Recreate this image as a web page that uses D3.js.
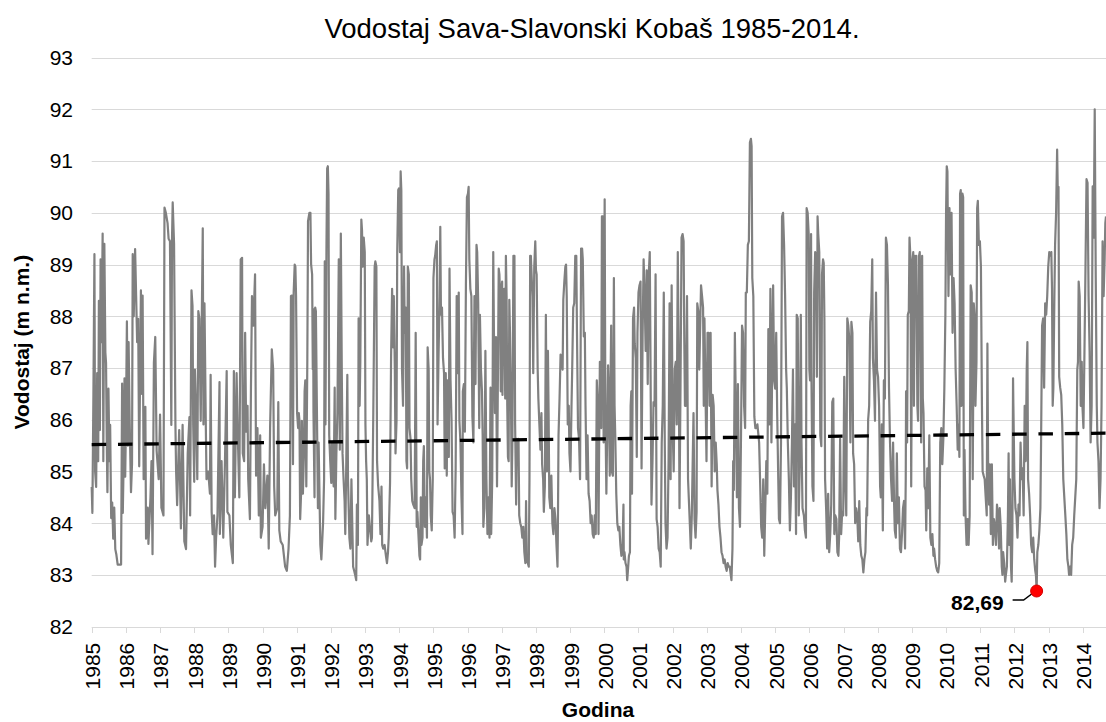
<!DOCTYPE html>
<html>
<head>
<meta charset="utf-8">
<script src="https://cdn.jsdelivr.net/npm/d3@7"></script>
<style>
  body { margin: 0; background: #fff; }
  svg { display: block; font-family: "Liberation Sans", Arial, sans-serif; }
</style>
</head>
<body>
<svg id="chart" width="1106" height="722"></svg>
<script>
// water level: [decimal year, m n.m.]
const levelSeries = [
  [1985.00,84.7],[1985.02,84.2],[1985.05,86.5],[1985.08,89.2],[1985.10,85.0],[1985.13,84.7],[1985.16,86.9],[1985.19,85.2],[1985.21,88.3],[1985.24,85.8],
  [1985.26,89.1],[1985.29,87.5],[1985.32,89.6],[1985.34,85.2],[1985.37,89.4],[1985.40,87.3],[1985.42,87.1],[1985.44,85.6],[1985.46,84.6],[1985.49,86.6],
  [1985.52,85.2],[1985.54,85.9],[1985.57,84.1],[1985.60,84.4],[1985.63,83.7],[1985.66,84.3],[1985.69,83.5],[1985.72,83.4],[1985.76,83.2],[1985.81,83.2],
  [1985.86,83.2],[1985.89,86.7],[1985.91,84.2],[1985.93,85.0],[1985.96,86.8],[1985.98,84.9],[1986.00,85.8],[1986.03,87.9],[1986.06,85.5],[1986.08,87.5],
  [1986.11,86.0],[1986.15,84.6],[1986.18,85.15],[1986.20,89.2],[1986.23,88.0],[1986.27,89.3],[1986.30,88.4],[1986.33,87.5],[1986.36,87.95],[1986.39,85.1],
  [1986.44,88.5],[1986.47,86.5],[1986.49,88.4],[1986.52,84.85],[1986.57,86.25],[1986.59,83.7],[1986.64,84.3],[1986.66,83.6],[1986.72,84.5],[1986.75,85.2],
  [1986.78,83.4],[1986.82,87.1],[1986.86,87.6],[1986.90,85.4],[1986.96,84.85],[1987.00,86.1],[1987.04,84.3],[1987.10,84.15],[1987.13,90.1],[1987.17,90.0],
  [1987.22,89.8],[1987.25,89.5],[1987.29,89.45],[1987.33,85.9],[1987.35,89.5],[1987.37,90.2],[1987.41,89.4],[1987.45,85.9],[1987.47,85.0],[1987.50,84.35],
  [1987.56,85.8],[1987.61,83.9],[1987.66,85.9],[1987.71,83.65],[1987.76,83.5],[1987.81,85.35],[1987.86,86.05],[1987.88,84.15],[1987.92,88.5],[1987.95,88.2],
  [1987.97,85.9],[1988.00,84.8],[1988.02,86.97],[1988.05,86.27],[1988.09,84.85],[1988.12,88.1],[1988.15,87.96],[1988.19,85.98],[1988.22,87.9],[1988.25,89.7],
  [1988.27,85.91],[1988.30,88.25],[1988.34,85.84],[1988.36,84.85],[1988.41,85.0],[1988.46,84.57],[1988.48,86.87],[1988.51,84.22],[1988.54,83.79],[1988.58,84.15],
  [1988.61,83.16],[1988.64,83.72],[1988.68,84.15],[1988.74,86.73],[1988.75,83.79],[1988.80,85.2],[1988.85,83.72],[1988.90,85.2],[1988.95,86.94],[1988.97,84.22],
  [1989.03,84.15],[1989.07,83.58],[1989.13,83.23],[1989.16,86.94],[1989.19,84.5],[1989.24,86.9],[1989.27,85.84],[1989.32,84.5],[1989.36,89.1],[1989.40,89.13],
  [1989.42,85.35],[1989.46,85.2],[1989.49,87.68],[1989.52,85.77],[1989.56,86.27],[1989.58,84.85],[1989.63,84.08],[1989.66,86.62],[1989.69,88.39],[1989.73,87.82],
  [1989.78,88.81],[1989.81,84.92],[1989.85,85.84],[1989.89,84.15],[1989.93,85.7],[1989.95,83.72],[1990.00,83.93],[1990.04,85.14],[1990.08,84.29],[1990.14,84.92],
  [1990.18,83.51],[1990.22,85.84],[1990.27,87.36],[1990.31,86.97],[1990.34,84.71],[1990.37,84.15],[1990.43,84.29],[1990.46,86.34],[1990.49,83.86],[1990.53,83.65],
  [1990.59,83.58],[1990.66,83.16],[1990.71,83.08],[1990.76,83.51],[1990.80,84.15],[1990.83,88.39],[1990.86,88.4],[1990.89,85.14],[1990.91,88.46],[1990.94,89.0],
  [1990.96,88.96],[1990.98,88.39],[1991.01,86.13],[1991.04,85.84],[1991.06,86.13],[1991.08,85.98],[1991.10,84.08],[1991.13,84.64],[1991.15,85.98],[1991.18,84.57],
  [1991.21,85.35],[1991.23,86.55],[1991.25,86.76],[1991.28,84.71],[1991.31,87.19],[1991.33,89.84],[1991.37,90.0],[1991.40,90.0],[1991.42,89.01],[1991.45,88.81],
  [1991.47,86.97],[1991.48,88.14],[1991.49,86.13],[1991.52,84.5],[1991.54,88.17],[1991.56,88.1],[1991.59,86.2],[1991.62,84.29],[1991.64,85.56],[1991.69,83.58],
  [1991.72,83.3],[1991.74,83.58],[1991.77,84.0],[1991.80,84.85],[1991.82,89.06],[1991.84,85.91],[1991.87,89.38],[1991.89,90.86],[1991.91,90.9],[1991.93,90.37],
  [1991.95,85.7],[1991.98,85.2],[1992.01,84.78],[1992.03,85.56],[1992.08,84.71],[1992.11,86.62],[1992.13,84.08],[1992.16,85.35],[1992.19,86.13],[1992.23,89.1],
  [1992.26,85.42],[1992.29,89.6],[1992.32,86.76],[1992.34,85.35],[1992.37,84.85],[1992.40,84.43],[1992.42,83.79],[1992.45,85.2],[1992.48,86.87],[1992.50,84.85],
  [1992.54,83.72],[1992.57,83.51],[1992.60,84.85],[1992.62,84.15],[1992.65,83.16],[1992.68,83.08],[1992.71,83.0],[1992.74,82.9],[1992.76,84.36],[1992.79,83.58],
  [1992.81,87.96],[1992.84,86.27],[1992.86,87.12],[1992.89,89.87],[1992.91,89.66],[1992.93,88.96],[1992.96,89.52],[1992.99,89.24],[1993.01,85.91],[1993.03,85.2],
  [1993.05,84.85],[1993.07,83.58],[1993.11,84.15],[1993.15,83.86],[1993.18,83.65],[1993.20,83.72],[1993.24,86.13],[1993.28,88.96],[1993.30,89.06],[1993.33,88.96],
  [1993.35,85.2],[1993.38,84.74],[1993.42,84.43],[1993.45,83.79],[1993.48,84.71],[1993.50,83.58],[1993.53,83.51],[1993.57,83.58],[1993.61,83.37],[1993.64,83.23],
  [1993.67,83.44],[1993.69,83.72],[1993.73,84.78],[1993.76,87.19],[1993.79,88.53],[1993.82,87.4],[1993.84,88.39],[1993.87,86.97],[1993.89,85.35],[1993.92,85.98],
  [1993.94,89.24],[1993.97,90.44],[1993.99,90.47],[1994.02,89.24],[1994.04,90.8],[1994.06,90.44],[1994.08,86.97],[1994.11,86.27],[1994.14,88.96],[1994.16,87.68],
  [1994.19,88.17],[1994.21,85.2],[1994.23,85.06],[1994.25,88.96],[1994.28,88.81],[1994.30,85.84],[1994.33,85.63],[1994.35,84.85],[1994.38,84.43],[1994.41,84.36],
  [1994.45,84.29],[1994.48,87.68],[1994.51,83.93],[1994.53,84.22],[1994.56,83.79],[1994.59,83.37],[1994.61,83.3],[1994.63,84.5],[1994.65,83.58],[1994.68,83.72],
  [1994.70,85.2],[1994.72,85.49],[1994.75,83.93],[1994.78,84.5],[1994.81,83.72],[1994.83,87.4],[1994.86,86.97],[1994.88,85.0],[1994.90,84.85],[1994.92,84.15],
  [1994.95,83.86],[1994.98,84.85],[1995.00,88.74],[1995.03,89.1],[1995.05,89.17],[1995.08,89.38],[1995.10,89.45],[1995.12,85.91],[1995.15,87.26],[1995.18,88.39],
  [1995.20,89.73],[1995.22,88.03],[1995.25,88.17],[1995.28,87.19],[1995.31,86.9],[1995.33,85.06],[1995.36,86.9],[1995.39,84.92],[1995.41,86.76],[1995.44,85.56],
  [1995.45,85.28],[1995.47,88.92],[1995.50,86.76],[1995.53,85.98],[1995.56,84.22],[1995.59,84.15],[1995.62,83.72],[1995.65,85.06],[1995.68,88.39],[1995.71,86.9],
  [1995.74,88.46],[1995.76,85.98],[1995.79,85.56],[1995.82,84.5],[1995.85,83.79],[1995.86,86.55],[1995.89,86.69],[1995.92,85.77],[1995.95,88.6],[1995.98,90.3],
  [1996.01,90.37],[1996.03,90.5],[1996.05,89.1],[1996.08,88.53],[1996.11,88.39],[1996.14,86.06],[1996.17,85.56],[1996.20,88.39],[1996.23,86.69],[1996.26,89.38],
  [1996.28,89.24],[1996.31,88.25],[1996.34,85.84],[1996.36,88.03],[1996.39,86.97],[1996.42,86.55],[1996.44,85.7],[1996.46,83.93],[1996.49,84.29],[1996.52,87.33],
  [1996.55,84.85],[1996.58,83.79],[1996.61,84.5],[1996.64,83.72],[1996.67,86.62],[1996.69,83.79],[1996.72,84.85],[1996.75,89.24],[1996.77,87.68],[1996.80,86.13],
  [1996.83,87.6],[1996.86,84.71],[1996.88,86.27],[1996.91,88.92],[1996.93,88.81],[1996.95,88.39],[1996.97,86.55],[1996.99,88.53],[1997.01,88.67],[1997.02,86.48],
  [1997.04,88.39],[1997.07,88.53],[1997.10,86.41],[1997.12,89.17],[1997.14,88.39],[1997.16,86.27],[1997.18,85.28],[1997.20,85.2],[1997.22,88.32],[1997.24,87.68],
  [1997.27,86.27],[1997.29,84.71],[1997.31,85.56],[1997.34,89.17],[1997.37,89.17],[1997.39,85.91],[1997.42,84.36],[1997.44,85.63],[1997.47,85.14],[1997.49,85.63],
  [1997.51,84.15],[1997.54,84.0],[1997.57,83.93],[1997.60,83.72],[1997.63,83.93],[1997.66,83.44],[1997.69,83.23],[1997.71,84.43],[1997.73,83.3],[1997.76,83.23],
  [1997.79,83.16],[1997.81,84.85],[1997.83,89.17],[1997.85,89.17],[1997.88,88.67],[1997.90,88.39],[1997.92,86.9],[1997.95,88.96],[1997.98,89.45],[1998.00,88.89],
  [1998.02,88.81],[1998.05,86.97],[1998.07,86.41],[1998.10,85.91],[1998.13,85.42],[1998.16,86.13],[1998.18,85.14],[1998.21,84.85],[1998.23,84.22],[1998.26,84.71],
  [1998.29,88.03],[1998.32,85.0],[1998.35,87.33],[1998.37,86.13],[1998.39,84.5],[1998.42,84.29],[1998.45,84.92],[1998.48,84.0],[1998.51,83.79],[1998.54,84.29],
  [1998.57,84.08],[1998.60,83.58],[1998.63,83.16],[1998.64,83.79],[1998.66,85.7],[1998.69,86.41],[1998.72,87.26],[1998.75,87.05],[1998.78,86.97],[1998.80,88.32],
  [1998.83,88.67],[1998.86,88.96],[1998.88,89.0],[1998.90,88.39],[1998.93,85.91],[1998.96,86.27],[1998.98,85.35],[1999.01,85.0],[1999.04,86.27],[1999.06,86.97],
  [1999.09,88.17],[1999.12,88.25],[1999.15,89.17],[1999.18,89.17],[1999.20,87.68],[1999.23,85.84],[1999.26,85.63],[1999.29,84.85],[1999.32,89.31],[1999.35,89.31],
  [1999.37,89.1],[1999.40,87.61],[1999.43,87.68],[1999.45,86.27],[1999.48,84.85],[1999.51,85.7],[1999.54,84.57],[1999.57,84.43],[1999.60,84.0],[1999.63,84.15],
  [1999.66,83.79],[1999.69,83.72],[1999.72,84.15],[1999.75,83.79],[1999.78,86.76],[1999.81,86.27],[1999.83,83.79],[1999.85,85.63],[1999.87,87.12],[1999.89,86.97],
  [1999.91,85.84],[1999.93,89.93],[1999.96,89.93],[1999.98,85.56],[2000.01,90.26],[2000.03,86.27],[2000.06,84.57],[2000.09,86.06],[2000.11,87.05],[2000.13,86.55],
  [2000.16,84.92],[2000.18,86.55],[2000.20,87.82],[2000.22,85.0],[2000.25,84.92],[2000.28,88.74],[2000.30,86.27],[2000.32,85.7],[2000.35,84.57],[2000.38,84.0],
  [2000.41,83.86],[2000.44,83.93],[2000.47,83.58],[2000.50,83.37],[2000.53,83.44],[2000.56,84.36],[2000.57,83.3],[2000.59,83.44],[2000.62,83.23],[2000.65,83.16],
  [2000.67,82.9],[2000.69,83.08],[2000.72,83.37],[2000.75,83.44],[2000.77,86.27],[2000.79,86.55],[2000.81,84.57],[2000.84,87.96],[2000.87,88.17],[2000.89,87.47],
  [2000.92,87.19],[2000.95,85.28],[2000.97,87.68],[2001.00,88.46],[2001.03,88.6],[2001.06,88.67],[2001.09,85.06],[2001.12,87.61],[2001.15,89.1],[2001.18,88.39],
  [2001.21,87.33],[2001.24,88.89],[2001.27,86.69],[2001.30,88.81],[2001.33,89.24],[2001.36,86.27],[2001.38,84.36],[2001.41,85.2],[2001.44,86.34],[2001.47,86.27],
  [2001.50,88.81],[2001.53,84.08],[2001.56,83.93],[2001.59,83.51],[2001.62,83.44],[2001.65,83.16],[2001.68,85.56],[2001.71,86.27],[2001.74,88.46],[2001.77,85.49],
  [2001.79,84.0],[2001.82,83.51],[2001.85,83.72],[2001.88,85.2],[2001.91,88.25],[2001.94,84.85],[2001.97,88.6],[2002.00,85.84],[2002.03,85.0],[2002.06,86.97],
  [2002.09,87.12],[2002.12,85.91],[2002.15,89.24],[2002.18,86.97],[2002.20,84.29],[2002.23,86.69],[2002.26,89.52],[2002.29,89.59],[2002.32,89.45],[2002.34,87.54],
  [2002.36,86.27],[2002.39,86.27],[2002.42,88.39],[2002.45,84.85],[2002.48,84.36],[2002.51,83.86],[2002.53,83.51],[2002.56,84.15],[2002.59,85.35],[2002.61,86.13],
  [2002.64,84.08],[2002.67,83.72],[2002.70,84.22],[2002.72,88.25],[2002.75,88.1],[2002.78,86.97],[2002.83,88.6],[2002.86,88.39],[2002.89,88.17],[2002.91,86.27],
  [2002.93,87.96],[2002.96,86.55],[2002.99,85.2],[2003.02,87.68],[2003.05,87.68],[2003.08,86.27],[2003.11,87.68],[2003.14,84.71],[2003.17,86.48],[2003.20,86.27],
  [2003.23,85.0],[2003.26,85.56],[2003.29,85.14],[2003.31,84.64],[2003.34,84.36],[2003.37,83.93],[2003.40,83.72],[2003.43,83.44],[2003.46,83.37],[2003.49,83.23],
  [2003.52,83.3],[2003.55,83.16],[2003.58,83.08],[2003.61,83.23],[2003.64,83.16],[2003.67,83.16],[2003.70,83.0],[2003.72,82.9],[2003.75,83.51],[2003.77,85.2],
  [2003.79,84.64],[2003.82,87.68],[2003.85,86.2],[2003.88,84.5],[2003.91,86.69],[2003.94,84.29],[2003.97,83.93],[2004.00,85.7],[2004.03,87.82],[2004.06,87.68],
  [2004.09,86.27],[2004.12,85.84],[2004.14,88.46],[2004.17,88.46],[2004.20,89.38],[2004.23,89.45],[2004.26,91.36],[2004.29,91.43],[2004.31,91.29],[2004.33,88.74],
  [2004.36,88.39],[2004.39,86.06],[2004.42,85.84],[2004.45,85.84],[2004.48,85.91],[2004.51,85.7],[2004.53,85.56],[2004.56,84.78],[2004.59,83.93],[2004.62,83.72],
  [2004.65,84.85],[2004.68,83.37],[2004.71,84.29],[2004.74,85.2],[2004.77,84.57],[2004.80,87.75],[2004.83,85.91],[2004.86,88.53],[2004.89,85.56],[2004.92,87.54],
  [2004.94,88.6],[2004.97,86.76],[2005.00,86.6],[2005.03,87.68],[2005.06,86.06],[2005.09,84.85],[2005.11,84.08],[2005.14,84.0],[2005.17,85.56],[2005.20,89.93],
  [2005.23,90.0],[2005.26,89.38],[2005.29,88.39],[2005.32,86.97],[2005.34,86.62],[2005.37,85.56],[2005.40,84.85],[2005.43,83.86],[2005.46,84.5],[2005.49,85.56],
  [2005.52,86.97],[2005.55,84.71],[2005.58,85.91],[2005.61,83.79],[2005.63,88.03],[2005.66,87.96],[2005.69,84.15],[2005.72,85.2],[2005.75,88.03],[2005.77,85.56],
  [2005.80,84.29],[2005.84,84.15],[2005.87,83.86],[2005.90,83.72],[2005.92,90.09],[2005.95,90.0],[2005.98,89.59],[2006.00,86.97],[2006.02,86.76],[2006.05,89.59],
  [2006.06,86.9],[2006.09,84.71],[2006.12,84.43],[2006.14,88.46],[2006.17,89.24],[2006.19,89.17],[2006.22,86.83],[2006.24,89.93],[2006.26,89.59],[2006.29,89.24],
  [2006.32,85.7],[2006.35,85.49],[2006.37,88.81],[2006.40,89.1],[2006.42,89.03],[2006.44,87.96],[2006.46,84.85],[2006.49,84.29],[2006.52,83.51],[2006.55,84.57],
  [2006.58,83.44],[2006.61,83.79],[2006.64,84.36],[2006.67,86.34],[2006.70,86.41],[2006.73,83.79],[2006.76,84.15],[2006.79,84.08],[2006.82,83.44],[2006.85,83.37],
  [2006.87,83.72],[2006.90,85.63],[2006.93,83.79],[2006.96,84.22],[2006.99,84.15],[2007.02,86.83],[2007.05,84.85],[2007.08,84.15],[2007.11,87.96],[2007.14,87.82],
  [2007.17,87.54],[2007.20,85.56],[2007.23,87.89],[2007.26,87.68],[2007.28,85.35],[2007.31,85.14],[2007.34,84.0],[2007.37,84.29],[2007.40,84.15],[2007.43,83.65],
  [2007.46,84.43],[2007.49,83.58],[2007.52,83.37],[2007.55,83.3],[2007.58,83.05],[2007.61,83.3],[2007.64,83.44],[2007.67,84.29],[2007.69,84.15],[2007.72,86.0],
  [2007.75,86.27],[2007.78,87.89],[2007.81,88.1],[2007.84,89.1],[2007.86,87.19],[2007.89,86.76],[2007.92,85.98],[2007.95,88.46],[2007.98,86.97],[2008.01,86.83],
  [2008.04,86.27],[2008.07,84.71],[2008.09,84.5],[2008.12,85.91],[2008.15,83.86],[2008.18,86.76],[2008.21,86.41],[2008.24,89.52],[2008.27,89.38],[2008.30,88.6],
  [2008.33,86.62],[2008.36,85.56],[2008.39,84.85],[2008.42,84.43],[2008.45,85.56],[2008.48,84.36],[2008.50,83.86],[2008.53,83.72],[2008.56,85.35],[2008.59,84.0],
  [2008.62,84.5],[2008.65,83.51],[2008.68,83.44],[2008.71,83.79],[2008.74,84.29],[2008.77,84.43],[2008.80,83.51],[2008.82,84.85],[2008.83,86.55],[2008.86,85.56],
  [2008.88,88.03],[2008.91,88.1],[2008.93,89.52],[2008.96,89.1],[2008.98,84.71],[2009.01,88.96],[2009.04,89.24],[2009.06,86.27],[2009.09,89.17],[2009.11,88.53],
  [2009.13,89.17],[2009.16,86.27],[2009.18,85.98],[2009.21,89.17],[2009.23,89.24],[2009.25,88.39],[2009.27,85.56],[2009.30,89.17],[2009.32,86.41],[2009.34,86.13],
  [2009.37,84.71],[2009.40,84.64],[2009.42,83.86],[2009.45,85.06],[2009.48,84.29],[2009.51,85.7],[2009.54,83.72],[2009.57,83.58],[2009.60,83.79],[2009.63,83.37],
  [2009.65,83.51],[2009.68,83.3],[2009.71,83.16],[2009.74,83.08],[2009.77,83.05],[2009.80,83.23],[2009.83,85.56],[2009.86,85.84],[2009.89,85.14],[2009.92,85.63],
  [2009.95,86.62],[2009.98,88.03],[2010.00,90.0],[2010.02,90.9],[2010.04,90.8],[2010.05,89.87],[2010.07,88.39],[2010.10,90.09],[2010.13,88.81],[2010.16,90.0],
  [2010.19,87.68],[2010.22,88.74],[2010.25,88.25],[2010.28,86.97],[2010.31,86.27],[2010.34,85.42],[2010.37,85.91],[2010.39,85.28],[2010.41,90.37],[2010.43,90.44],
  [2010.45,86.27],[2010.48,90.37],[2010.50,90.3],[2010.52,84.15],[2010.54,85.42],[2010.57,84.15],[2010.60,83.58],[2010.63,84.08],[2010.66,83.58],[2010.69,84.15],
  [2010.72,88.6],[2010.75,88.46],[2010.78,84.85],[2010.81,88.25],[2010.84,87.96],[2010.86,86.27],[2010.89,87.12],[2010.91,90.09],[2010.93,90.23],[2010.96,89.38],
  [2010.99,89.45],[2011.02,88.96],[2011.05,86.27],[2011.07,85.0],[2011.10,84.92],[2011.13,84.85],[2011.16,84.5],[2011.19,84.15],[2011.21,87.47],[2011.23,85.2],
  [2011.26,84.36],[2011.28,85.14],[2011.31,83.79],[2011.34,85.14],[2011.37,83.58],[2011.40,84.08],[2011.43,83.93],[2011.46,83.58],[2011.49,84.36],[2011.52,84.15],
  [2011.55,83.51],[2011.57,84.29],[2011.60,83.93],[2011.63,83.16],[2011.65,83.0],[2011.67,83.44],[2011.70,83.23],[2011.73,82.87],[2011.75,83.0],[2011.78,83.16],
  [2011.81,84.15],[2011.83,85.35],[2011.85,83.58],[2011.87,84.85],[2011.90,83.16],[2011.92,82.87],[2011.94,83.79],[2011.96,86.8],[2011.97,86.27],[2012.00,84.85],
  [2012.03,84.29],[2012.06,84.15],[2012.09,83.72],[2012.12,84.36],[2012.15,84.15],[2012.18,85.56],[2012.21,84.85],[2012.24,85.06],[2012.27,84.15],[2012.30,86.27],
  [2012.33,85.2],[2012.36,86.97],[2012.38,87.5],[2012.40,84.85],[2012.43,84.57],[2012.46,84.15],[2012.49,83.58],[2012.52,83.44],[2012.55,83.72],[2012.58,83.3],
  [2012.61,83.08],[2012.63,83.0],[2012.65,82.69],[2012.67,83.44],[2012.70,83.58],[2012.73,83.86],[2012.76,84.29],[2012.78,85.56],[2012.81,87.82],[2012.84,87.96],
  [2012.87,86.62],[2012.90,88.25],[2012.93,88.03],[2012.96,88.39],[2012.99,88.96],[2013.02,89.24],[2013.05,89.17],[2013.08,89.24],[2013.10,88.53],[2013.12,86.27],
  [2013.14,86.62],[2013.17,88.39],[2013.19,89.38],[2013.22,90.0],[2013.25,91.22],[2013.27,90.37],[2013.29,90.5],[2013.31,86.83],[2013.34,86.62],[2013.37,86.48],
  [2013.40,85.91],[2013.43,84.85],[2013.46,84.5],[2013.49,84.15],[2013.52,83.79],[2013.55,83.3],[2013.58,83.16],[2013.60,83.0],[2013.63,83.16],[2013.66,83.0],
  [2013.69,83.58],[2013.72,83.72],[2013.75,84.15],[2013.78,84.5],[2013.81,84.85],[2013.84,86.97],[2013.86,87.12],[2013.88,88.67],[2013.91,88.39],[2013.94,86.27],
  [2013.97,87.12],[2013.99,86.27],[2014.02,85.84],[2014.05,87.33],[2014.08,88.96],[2014.11,90.65],[2014.14,90.58],[2014.17,88.39],[2014.20,87.33],[2014.23,85.56],
  [2014.26,86.27],[2014.29,90.51],[2014.32,89.52],[2014.35,92.0],[2014.38,88.74],[2014.41,86.27],[2014.43,85.56],[2014.46,85.2],[2014.49,84.29],[2014.52,84.85],
  [2014.55,86.27],[2014.58,89.45],[2014.61,88.39],[2014.64,89.1],[2014.66,89.8],[2014.68,89.93]
];

// linear trend, start and end
const trendYears = [1985.0, 2014.68];
const trendLevels = [85.52, 85.74];

// lowest value, marked in red
const minPoint = { year: 2012.65, level: 82.69, label: "82,69" };

const yearTicks = d3.range(1985, 2015);
const levelTicks = d3.range(82, 94);

const svg = d3.select("#chart");
const width = 1106, height = 722;
const margin = { top: 57.6, right: 0, bottom: 95.3, left: 91.7 };

const x = d3.scaleLinear()
    .domain([1985, 2014.68])
    .range([margin.left, width - margin.right]);

const y = d3.scaleLinear()
    .domain([82, 93])
    .range([height - margin.bottom, margin.top]);

svg.append("rect").attr("width", width).attr("height", height).attr("fill", "#fff");

// horizontal grid
svg.append("g")
    .selectAll("line")
    .data(levelTicks)
    .enter()
    .append("line")
    .attr("x1", margin.left)
    .attr("x2", width)
    .attr("y1", function (d) { return Math.round(y(d)) + 0.5; })
    .attr("y2", function (d) { return Math.round(y(d)) + 0.5; })
    .attr("stroke", "#d9d9d9")
    .attr("stroke-width", 1);

// x axis ticks
svg.append("g")
    .selectAll("line")
    .data(yearTicks)
    .enter()
    .append("line")
    .attr("x1", function (d) { return Math.round(x(d)) + 0.5; })
    .attr("x2", function (d) { return Math.round(x(d)) + 0.5; })
    .attr("y1", Math.round(y(82)))
    .attr("y2", Math.round(y(82)) + 6)
    .attr("stroke", "#d9d9d9")
    .attr("stroke-width", 1);

// y tick labels
svg.append("g")
    .selectAll("text")
    .data(levelTicks)
    .enter()
    .append("text")
    .attr("x", 73)
    .attr("y", function (d) { return y(d); })
    .attr("dy", "0.35em")
    .attr("text-anchor", "end")
    .attr("font-size", 21)
    .attr("fill", "#000")
    .text(function (d) { return d; });

// x tick labels, rotated
svg.append("g")
    .selectAll("text")
    .data(yearTicks)
    .enter()
    .append("text")
    .attr("transform", function (d) {
        return "translate(" + (x(d) + 1) + "," + (y(82) + 16) + ") rotate(-90)";
    })
    .attr("dy", "0.35em")
    .attr("text-anchor", "end")
    .attr("font-size", 21)
    .attr("fill", "#000")
    .text(function (d) { return d; });

// the series
const line = d3.line()
    .x(function (d) { return x(d[0]); })
    .y(function (d) { return y(d[1]); });

svg.append("path")
    .datum(levelSeries)
    .attr("d", line)
    .attr("fill", "none")
    .attr("stroke", "#808080")
    .attr("stroke-width", 2.2)
    .attr("stroke-linejoin", "round");

// trend
svg.append("line")
    .attr("x1", x(trendYears[0]))
    .attr("x2", x(trendYears[1]))
    .attr("y1", y(trendLevels[0]))
    .attr("y2", y(trendLevels[1]))
    .attr("stroke", "#000")
    .attr("stroke-width", 3.3)
    .attr("stroke-dasharray", "14.5,11.8");

// minimum marker + label
const mx = x(minPoint.year), my = y(minPoint.level);

svg.append("path")
    .attr("d", "M" + (mx - 24) + "," + (my + 9) + "H" + (mx - 13) + "L" + (mx - 1) + "," + my)
    .attr("fill", "none")
    .attr("stroke", "#000")
    .attr("stroke-width", 1.5);

svg.append("circle")
    .attr("cx", mx)
    .attr("cy", my)
    .attr("r", 6)
    .attr("fill", "#ff0000")
    .attr("stroke", "#d40000")
    .attr("stroke-width", 1);

svg.append("text")
    .attr("x", mx - 33)
    .attr("y", my + 12)
    .attr("dy", "0.35em")
    .attr("text-anchor", "end")
    .attr("font-size", 21)
    .attr("font-weight", "bold")
    .text(minPoint.label);

// titles
svg.append("text")
    .attr("x", 592)
    .attr("y", 28)
    .attr("dy", "0.35em")
    .attr("text-anchor", "middle")
    .attr("font-size", 27.5)
    .text("Vodostaj Sava-Slavonski Kobaš 1985-2014.");

svg.append("text")
    .attr("transform", "translate(22," + y(87.5) + ") rotate(-90)")
    .attr("dy", "0.35em")
    .attr("text-anchor", "middle")
    .attr("font-size", 21)
    .attr("font-weight", "bold")
    .text("Vodostaj (m n.m.)");

svg.append("text")
    .attr("x", 598)
    .attr("y", 710)
    .attr("dy", "0.35em")
    .attr("text-anchor", "middle")
    .attr("font-size", 21)
    .attr("font-weight", "bold")
    .text("Godina");
</script>
</body>
</html>
